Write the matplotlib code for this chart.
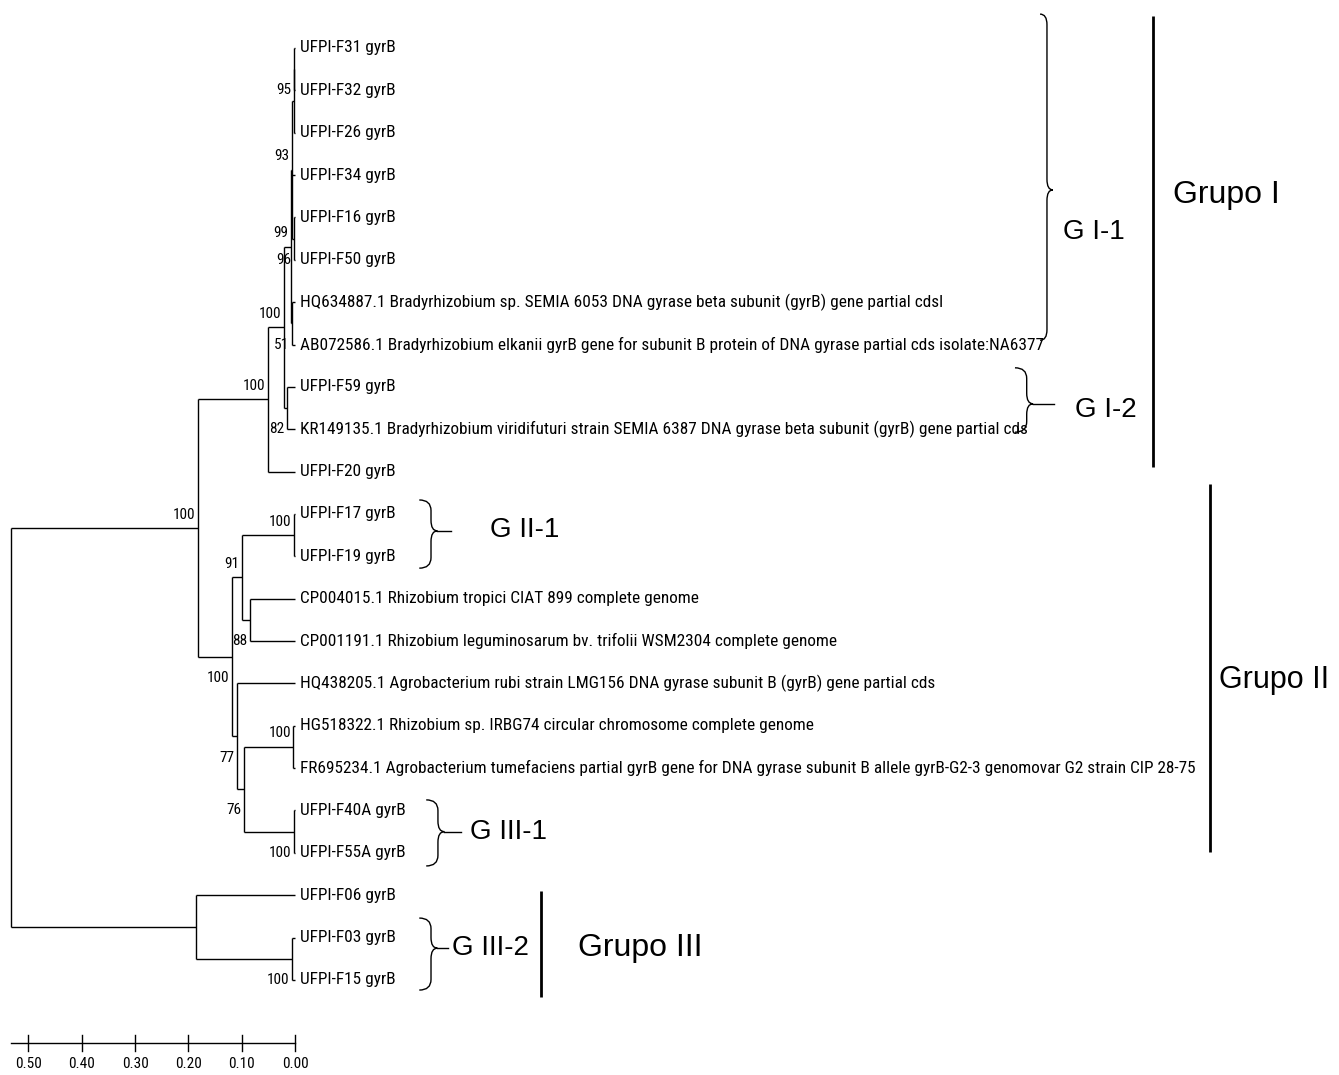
import matplotlib.pyplot as plt
import matplotlib.font_manager as fm
from matplotlib.path import Path
from matplotlib.patches import PathPatch

# tip labels, top to bottom
tips = [
    "UFPI-F31 gyrB", "UFPI-F32 gyrB", "UFPI-F26 gyrB", "UFPI-F34 gyrB",
    "UFPI-F16 gyrB", "UFPI-F50 gyrB",
    "HQ634887.1 Bradyrhizobium sp. SEMIA 6053 DNA gyrase beta subunit (gyrB) gene partial cdsl",
    "AB072586.1 Bradyrhizobium elkanii gyrB gene for subunit B protein of DNA gyrase partial cds isolate:NA6377",
    "UFPI-F59 gyrB",
    "KR149135.1 Bradyrhizobium viridifuturi strain SEMIA 6387 DNA gyrase beta subunit (gyrB) gene partial cds",
    "UFPI-F20 gyrB", "UFPI-F17 gyrB", "UFPI-F19 gyrB",
    "CP004015.1 Rhizobium tropici CIAT 899 complete genome",
    "CP001191.1 Rhizobium leguminosarum bv. trifolii WSM2304 complete genome",
    "HQ438205.1 Agrobacterium rubi strain LMG156 DNA gyrase subunit B (gyrB) gene partial cds",
    "HG518322.1 Rhizobium sp. IRBG74 circular chromosome complete genome",
    "FR695234.1 Agrobacterium tumefaciens partial gyrB gene for DNA gyrase subunit B allele gyrB-G2-3 genomovar G2 strain CIP 28-75",
    "UFPI-F40A gyrB", "UFPI-F55A gyrB", "UFPI-F06 gyrB", "UFPI-F03 gyrB", "UFPI-F15 gyrB",
]

# internal nodes (ints = tip index, strings = node name), heights, bootstrap
node_names = ["n1", "n2", "n3", "n4", "n5", "n6", "n7", "n8", "n9", "n10",
              "n11", "n12", "n13", "n14", "n15", "n16", "n17", "n18", "n19", "n20", "root"]
node_children = [[0, 1], ["n1", 2], [4, 5], ["n2", 3, "n3"], [6, 7], ["n4", "n5"],
                 [8, 9], ["n6", "n7"], ["n8", 10], [11, 12], [13, 14], ["n10", "n11"],
                 [16, 17], [18, 19], ["n13", "n14"], [15, "n15"], ["n12", "n16"],
                 ["n9", "n17"], [21, 22], [20, "n19"], ["n18", "n20"]]
node_heights = [0.001, 0.002, 0.001, 0.0055, 0.0055, 0.0075, 0.015, 0.021, 0.0505, 0.002,
                0.084, 0.0995, 0.003, 0.002, 0.096, 0.1085, 0.1185, 0.182, 0.006, 0.185, 0.532]
node_support = [95, None, 96, 93, 51, 99, 82, 100, 100, 100,
                88, 91, 100, 100, 76, 77, 100, 100, 100, None, None]

# where each support value sits relative to its node
label_side = ["below", None, "below", "above", "below", "above", "below", "above", "above", "above",
              "below", "above", "above", "below", "below", "below", "below", "above", "below", None, None]

scale_ticks = [0.50, 0.40, 0.30, 0.20, 0.10, 0.00]

# look for a narrow face like the Arial Narrow of the original
narrow = fm.FontProperties(family="Liberation Sans")
for fam in ["Liberation Sans Narrow", "Roboto Condensed", "Open Sans Condensed",
            "DejaVu Sans Condensed", "Noto Sans", "Open Sans", "Roboto", "DejaVu Sans"]:
    fp = fm.FontProperties(family=fam, stretch="condensed")
    try:
        path = fm.findfont(fp, fallback_to_default=False)
    except Exception:
        continue
    if "ondensed" in path or "Narrow" in path or "SemiCondensed" in path:
        narrow = fp
        break
wide = "Liberation Sans"

fig = plt.figure(figsize=(13.39, 10.75), dpi=100)
ax = fig.add_axes([0, 0, 1, 1])
ax.set_xlim(0.5532, -1.9576)
ax.set_ylim(24.245, -1.133)
ax.axis("off")

# size the tip font so the longest label spans like the original (~895 px)
probe = fig.text(0, 0, tips[17], fontproperties=narrow, fontsize=12)
w = probe.get_window_extent(renderer=fig.canvas.get_renderer()).width
probe.remove()
tip_size = min(14.0, 12 * 895 / w)
bs_size = tip_size * 0.88

lw = 1.0
ypos = {i: i for i in range(len(tips))}
hpos = {i: 0.0 for i in range(len(tips))}
for name, ch, h in zip(node_names, node_children, node_heights):
    ys = [ypos[c] for c in ch]
    ypos[name] = (ys[0] + ys[-1]) / 2
    hpos[name] = h

for name, ch, bs, side in zip(node_names, node_children, node_support, label_side):
    h = hpos[name]
    ax.plot([h, h], [ypos[ch[0]], ypos[ch[-1]]], color="black", lw=lw, solid_capstyle="butt")
    for c in ch:
        ax.plot([h, hpos[c]], [ypos[c], ypos[c]], color="black", lw=lw, solid_capstyle="butt")
    if bs is not None:
        dy = -0.32 if side == "above" else 0.5
        ax.text(h + 0.005, ypos[name] + dy, str(bs), ha="right", va="center",
                fontsize=bs_size, fontproperties=narrow)

for i, t in enumerate(tips):
    ax.text(-0.0095, i, t, ha="left", va="center", fontsize=tip_size, fontproperties=narrow)

# scale bar
sy = 23.49
ax.plot([node_heights[-1], 0], [sy, sy], color="black", lw=lw)
for t in scale_ticks:
    ax.plot([t, t], [sy - 0.19, sy + 0.19], color="black", lw=lw)
    ax.text(t, sy + 0.5, "%.2f" % t, ha="center", va="center", fontsize=bs_size,
            fontproperties=narrow)


def brace(y0, y1, ym, s, curl, q, p, d=0.25):
    verts = [(s + curl, y0), (s, y0), (s, y0 + d), (s, ym - d), (s, ym), (s - q, ym),
             (s, ym), (s, ym + d), (s, y1 - d), (s, y1), (s + curl, y1)]
    codes = [Path.MOVETO, Path.CURVE3, Path.CURVE3, Path.LINETO, Path.CURVE3, Path.CURVE3,
             Path.CURVE3, Path.CURVE3, Path.LINETO, Path.CURVE3, Path.CURVE3]
    ax.add_patch(PathPatch(Path(verts, codes), fill=False, lw=1.0, color="black"))
    if p > q:
        ax.plot([s - q, s - p], [ym, ym], color="black", lw=1.0)


# sub-group braces and labels
brace(-0.8, 6.9, 3.35, -1.410, 0.013, 0.011, 0.011)
ax.text(-1.440, 4.34, "G I-1", fontsize=20, family=wide, va="center")
brace(7.55, 9.07, 8.4, -1.372, 0.022, 0.012, 0.052)
ax.text(-1.4626, 8.55, "G I-2", fontsize=20, family=wide, va="center")
brace(10.67, 12.28, 11.4, -0.255, 0.022, 0.012, 0.0375)
ax.text(-0.3657, 11.38, "G II-1", fontsize=20, family=wide, va="center")
brace(17.75, 19.31, 18.5, -0.268, 0.022, 0.012, 0.043)
ax.text(-0.328, 18.5, "G III-1", fontsize=20, family=wide, va="center")
brace(20.54, 22.24, 21.25, -0.255, 0.022, 0.012, 0.032)
ax.text(-0.294, 21.25, "G III-2", fontsize=20, family=wide, va="center")

# main group bars
for x, ya, yb in [(-1.609, -0.76, 9.89), (-1.716, 10.3, 18.98), (-0.461, 19.9, 22.4)]:
    ax.plot([x, x], [ya, yb], color="black", lw=2.0, solid_capstyle="butt")
ax.text(-1.646, 3.47, "Grupo I", fontsize=23, family=wide, va="center")
ax.text(-1.732, 14.92, "Grupo II", fontsize=22, family=wide, va="center")
ax.text(-0.531, 21.25, "Grupo III", fontsize=23, family=wide, va="center")

fig.savefig("out.png", dpi=100)
